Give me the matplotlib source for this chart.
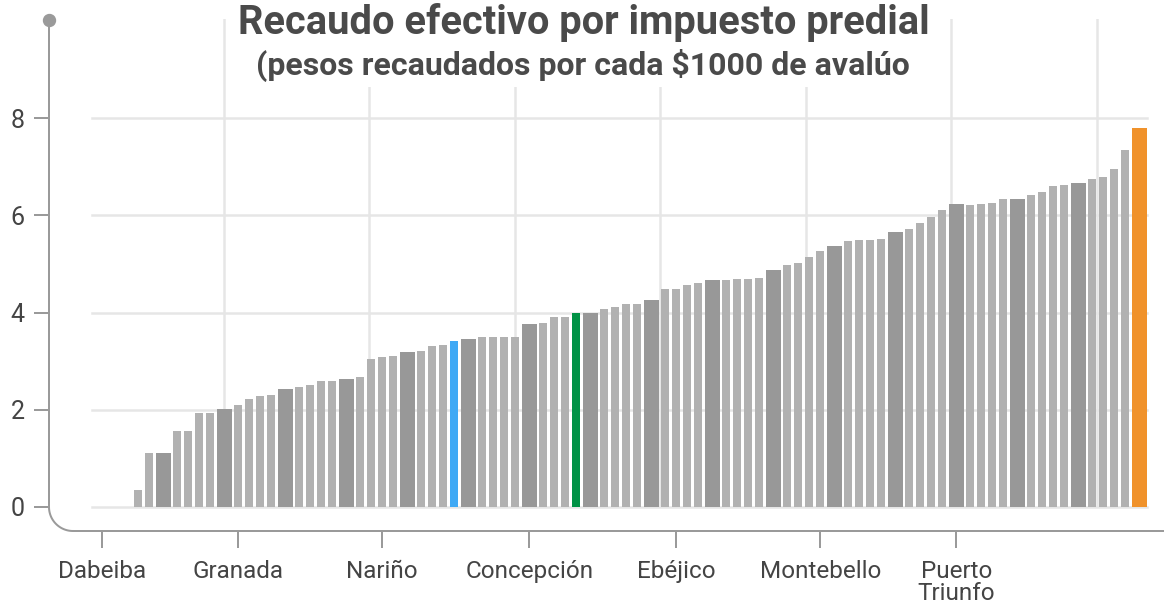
import numpy as np
import matplotlib
matplotlib.use('Agg')
import matplotlib.pyplot as plt

# valores por municipio (ordenados), pesos por cada $1000 de avaluo
values = [0, 0, 0,
          0.34, 1.10, 1.10, 1.56, 1.56, 1.93, 1.93, 2.02, 2.09, 2.22,
          2.28, 2.30, 2.42, 2.46, 2.50, 2.58, 2.58, 2.62, 2.68, 3.04,
          3.08, 3.10, 3.18, 3.20, 3.30, 3.33, 3.41, 3.45, 3.49, 3.49,
          3.49, 3.49, 3.76, 3.78, 3.90, 3.90, 3.98, 3.98, 4.08, 4.12,
          4.18, 4.18, 4.25, 4.48, 4.48, 4.56, 4.60, 4.66, 4.66, 4.70,
          4.70, 4.72, 4.87, 4.97, 5.01, 5.14, 5.26, 5.38, 5.48, 5.50,
          5.50, 5.52, 5.65, 5.73, 5.85, 5.96, 6.12, 6.24, 6.22, 6.24,
          6.26, 6.33, 6.33, 6.41, 6.49, 6.61, 6.63, 6.67, 6.74, 6.80,
          6.96, 7.34, 7.81]

# l = normal, d = grupo oscuro, b/g/o = resaltados
kinds = ("dllll" "dllll" "dllll" "dllll" "dllll" "dlllb" "dllll" "dlllg"
         "dllll" "dllll" "dllll" "dllll" "dllll" "dllll" "dllll" "dllll"
         "dllll" "o")

tick_labels = ['Dabeiba', 'Granada', 'Nariño', 'Concepción', 'Ebéjico',
               'Montebello', 'Puerto\nTriunfo']
tick_bars = [0, 11, 23, 35, 47, 59, 70]

colors = {'l': '#b1b1b1', 'd': '#989898', 'b': '#3fa9f5',
          'g': '#009245', 'o': '#f0922b'}

plt.rcParams['font.family'] = ['Roboto', 'DejaVu Sans']

W, H = 1164, 605
fig = plt.figure(figsize=(W / 100, H / 100), dpi=100)

# plot area in pixels
left, right, top, base = 92, 1147, 19, 506.7
px_per_unit = 48.55
ax = fig.add_axes([left / W, 1 - base / H, (right - left) / W, (base - top) / H])

wide = np.array([k in 'do' for k in kinds])
slot = np.where(wide, 17 / 11, 1.0)
x = np.cumsum(slot) - slot / 2
width = np.where(wide, 15 / 11, 8 / 11)
ax.bar(x, values, width=width, color=[colors[k] for k in kinds], zorder=2)

ax.set_xlim(-0.155, (right - 93.7) / 11)
ax.set_ylim(0, (base - top) / px_per_unit)

grid_c = '#e6e6e6'
for v in [0, 2, 4, 6, 8]:
    ax.axhline(v, color=grid_c, lw=1.8, zorder=1, clip_on=False)
for gx in np.arange(11.8, 96, 13.236):
    ax.axvline(gx, color=grid_c, lw=1.8, zorder=1)

for s in ax.spines.values():
    s.set_visible(False)
ax.spines['left'].set_position(('outward', 31))
ax.spines['bottom'].set_position(('outward', 17.5))

ax.set_yticks([0, 2, 4, 6, 8])
ax.tick_params(axis='y', length=10.8, width=1.44, color='#9a9a9a', pad=6.5,
               labelsize=18, labelcolor='#444444')
ax.set_xticks(x[tick_bars])
ax.set_xticklabels(tick_labels, linespacing=0.95)
ax.tick_params(axis='x', length=12.2, width=1.44, color='#9a9a9a', pad=8.5,
               labelsize=17.5, labelcolor='#444444')

# eje con esquina redondeada
deco = fig.add_axes([0, 0, 1, 1])
deco.set_xlim(0, W)
deco.set_ylim(H, 0)
deco.axis('off')
deco.patch.set_alpha(0)
ax_x, ax_y, r, top_y = left - 43, base + 24.3, 24, 20
t = np.linspace(np.pi, np.pi / 2, 30)
xs = np.concatenate([[ax_x], ax_x + r + r * np.cos(t), [W]])
ys = np.concatenate([[top_y], ax_y - r + r * np.sin(t), [ax_y]])
deco.plot(xs, ys, color='#9a9a9a', lw=1.44, solid_capstyle='butt')
deco.plot(ax_x, top_y, 'o', ms=8.6, color='#9a9a9a')

box = dict(facecolor='white', edgecolor='none', pad=4)
fig.text(0.5017, 1 - 34 / H, 'Recaudo efectivo por impuesto predial',
         ha='center', va='baseline', fontsize=28.7, fontweight='bold',
         color='#4a4a4a', bbox=box)
fig.text(0.501, 1 - 75 / H, '(pesos recaudados por cada $1000 de avalúo',
         ha='center', va='baseline', fontsize=23, fontweight='bold',
         color='#4a4a4a', bbox=box)

fig.savefig('out.png', dpi=100)
